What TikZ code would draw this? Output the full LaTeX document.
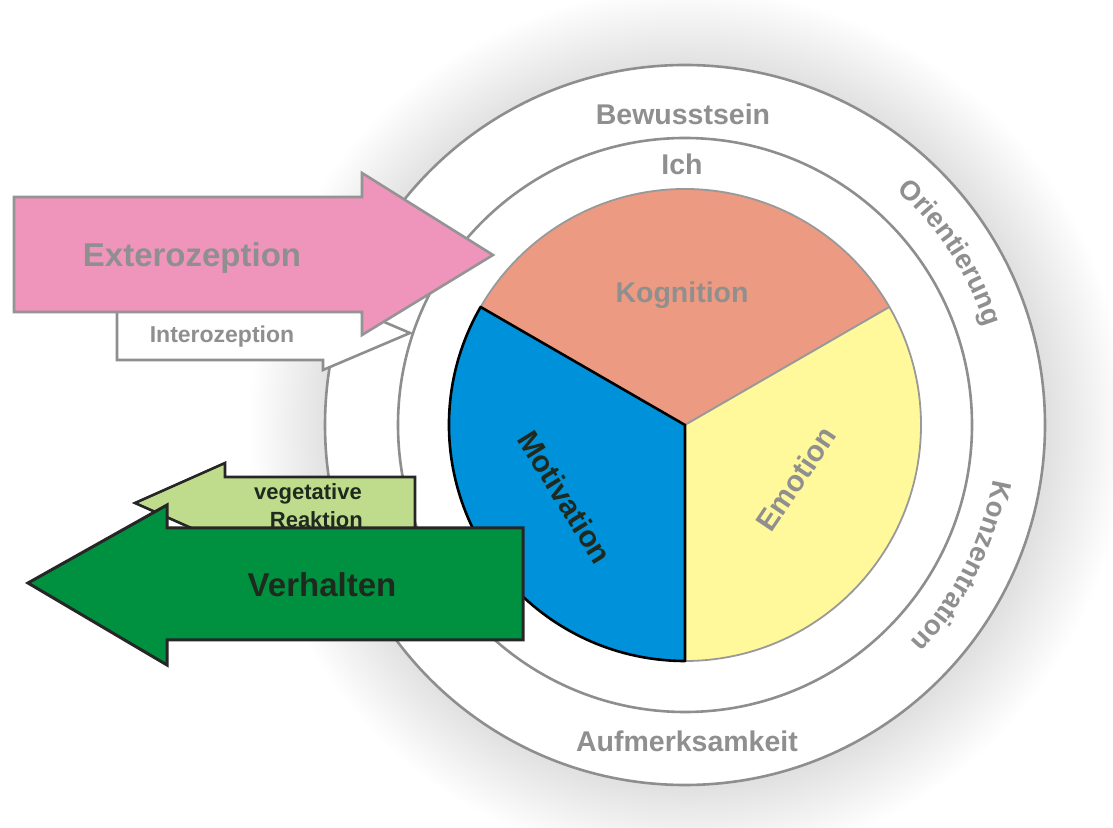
\documentclass[tikz,border=0pt]{standalone}
\usepackage{fontspec}
\setmainfont{Liberation Sans}
\usetikzlibrary{decorations.text}
\definecolor{ringgray}{HTML}{8E8E8E}
\definecolor{txtgray}{HTML}{8F8F8F}
\definecolor{kog}{HTML}{EC9A82}
\definecolor{emo}{HTML}{FFF99C}
\definecolor{mot}{HTML}{0091DB}
\definecolor{exto}{HTML}{EF95BC}
\definecolor{verh}{HTML}{009140}
\definecolor{veg}{HTML}{BEDC8B}
\definecolor{darktxt}{HTML}{1E2A1E}
\begin{document}
\begin{tikzpicture}[x=1pt,y=1pt,
  ring/.style={draw=ringgray, line width=2.6pt},
  ringlbl/.style={text=txtgray, font=\bfseries\fontsize{28.5}{30}\selectfont, inner sep=0pt, anchor=base},
  sector/.style={draw=ringgray!90, line width=1.8pt, line join=round},
  arrowshape/.style={line width=2.6pt, line join=miter},
  curvedlbl/.style={decorate, decoration={text along path, text align=center, text color=txtgray}}]
\useasboundingbox (0,0) rectangle (1113,827);
\fill[white] (0,0) rectangle (1113,827);
\coordinate (C) at (685,402);
% soft halo
\foreach \i in {1,...,30} {
  \fill[black, opacity=0.0038] (688,400) circle[radius=360+2.6*\i];
}
% rings
\filldraw[fill=white, ring] (C) circle[radius=360];
\draw[ring] (C) circle[radius=287];
% pie
\filldraw[fill=kog, sector] (C) -- ++(30:236) arc[start angle=30, end angle=150, radius=236] -- cycle;
\filldraw[fill=emo, sector] (C) -- ++(-90:236) arc[start angle=-90, end angle=30, radius=236] -- cycle;
\filldraw[fill=mot, draw=black, line width=2.6pt, line join=round] (C) -- ++(150:236) arc[start angle=150, end angle=270, radius=236] -- cycle;
% pie labels
\node[ringlbl] (kognition) at (682,524) {Kognition};
\node[text=darktxt, font=\bfseries\fontsize{30}{32}\selectfont, inner sep=0pt, rotate=-58] (motivation) at (565,330) {Motivation};
\node[text=txtgray, font=\bfseries\fontsize{29.5}{32}\selectfont, inner sep=0pt, rotate=56] (emotion) at (796,348) {Emotion};
% ring labels
\node[ringlbl] (bewusstsein) at (683,702) {Bewusstsein};
\node[ringlbl] (ich) at (682,652) {Ich};
\node[ringlbl] (aufmerksamkeit) at (687,75) {Aufmerksamkeit};
\path[curvedlbl, decoration={text={|\bfseries\fontsize{27.5}{30}\selectfont|Orientierung}}] (C) ++(50:316) arc[start angle=50, end angle=16, radius=316];
\path[curvedlbl, decoration={text={|\bfseries\fontsize{27.5}{30}\selectfont|Konzentration}}] (C) ++(-7:313) arc[start angle=-7, end angle=-47, radius=313];
% Interozeption arrow
\filldraw[fill=white, draw=ringgray, arrowshape] (117,521) -- (323,521) -- (323,531) -- (410,494) -- (323,457) -- (323,467) -- (117,467) -- cycle;
\node[text=txtgray, font=\bfseries\fontsize{23}{25}\selectfont, inner sep=0pt, anchor=base] (intero) at (222,484) {Interozeption};
% Exterozeption arrow
\filldraw[fill=exto, draw=ringgray!95, arrowshape] (14,630) -- (362,630) -- (362,654) -- (493,572) -- (362,492) -- (362,515) -- (14,515) -- cycle;
\node[text=txtgray, font=\bfseries\fontsize{33}{36}\selectfont, inner sep=0pt, anchor=base] (extero) at (192,560) {Exterozeption};
% vegetative Reaktion arrow
\filldraw[fill=veg, draw=black!85, arrowshape] (415,350) -- (225,350) -- (225,364) -- (135,324) -- (225,284) -- (225,298) -- (415,298) -- cycle;
\node[text=darktxt, font=\bfseries\fontsize{22}{24}\selectfont, inner sep=0pt, anchor=base east] (veg1) at (362,327) {vegetative};
\node[text=darktxt, font=\bfseries\fontsize{22}{24}\selectfont, inner sep=0pt, anchor=base east] (veg2) at (363,299) {Reaktion};
% Verhalten arrow
\filldraw[fill=verh, draw=black!85, line width=3pt, line join=miter] (523,299) -- (167,299) -- (167,322) -- (28,244) -- (167,162) -- (167,187) -- (523,187) -- cycle;
\node[text=darktxt, font=\bfseries\fontsize{33}{36}\selectfont, inner sep=0pt, anchor=base] (verhalten) at (322,230) {Verhalten};
\end{tikzpicture}
\end{document}
